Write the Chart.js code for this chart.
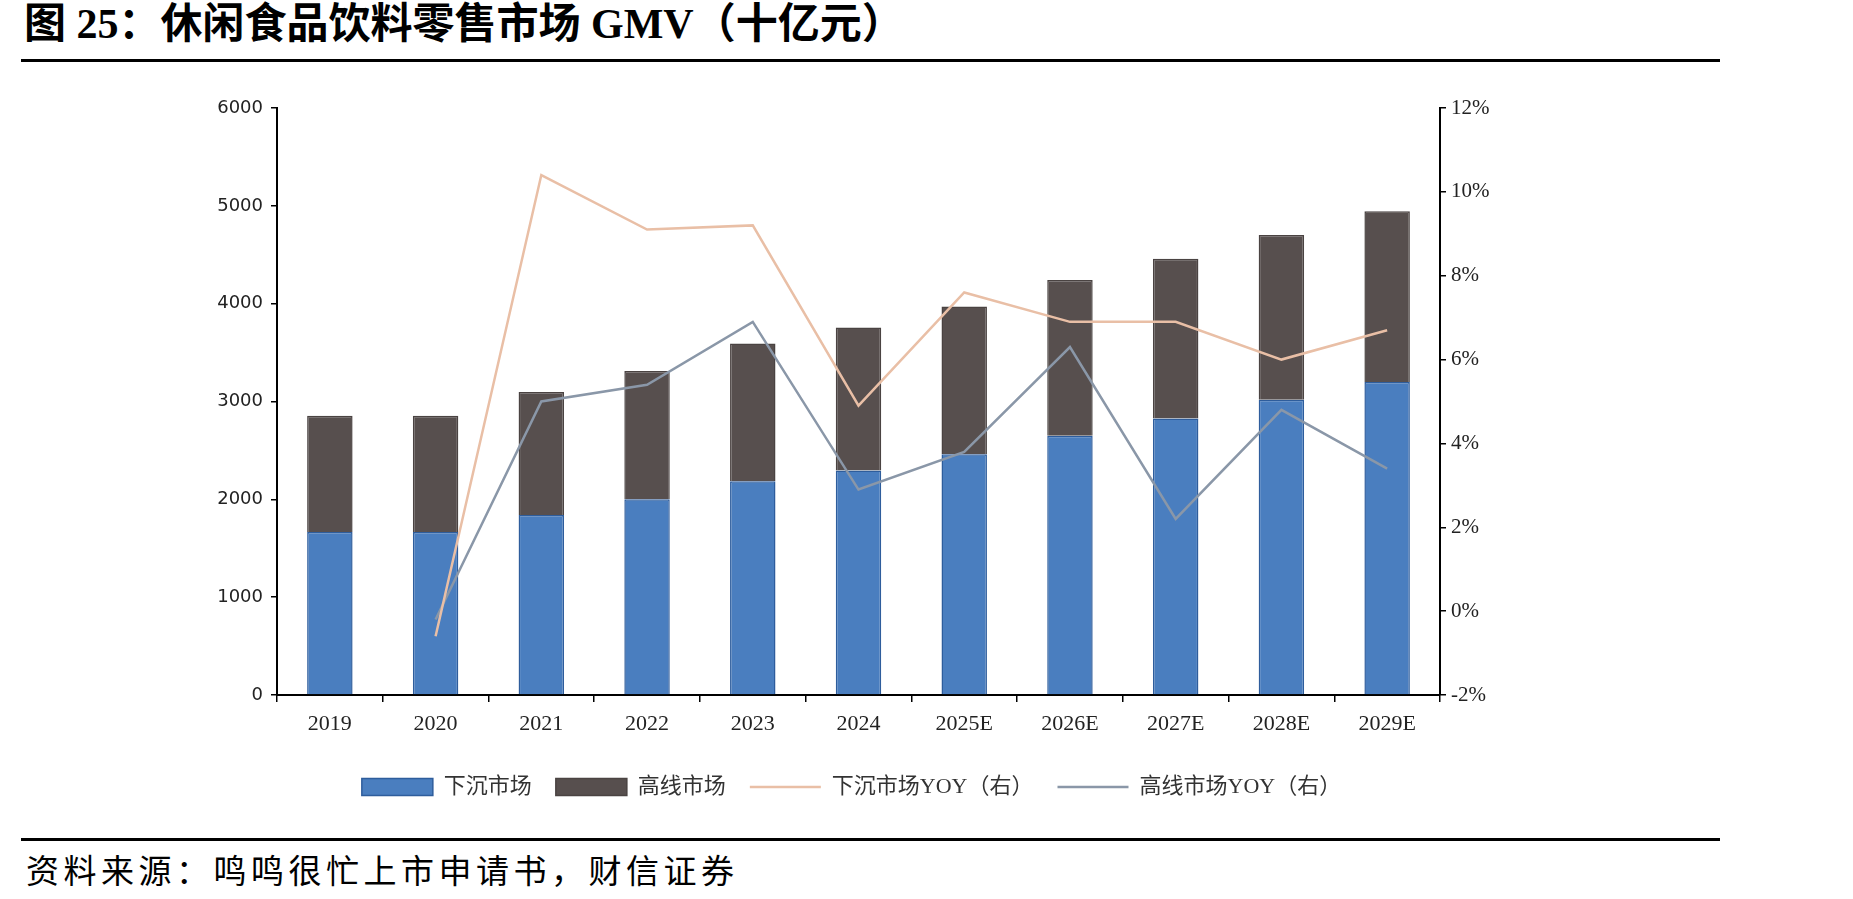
<!DOCTYPE html>
<html>
<head>
<meta charset="utf-8">
<script src="https://cdn.jsdelivr.net/npm/chart.js@4.4.1/dist/chart.umd.min.js"></script>
<style>
  body { margin: 0; background: #fff; width: 1853px; height: 899px; overflow: hidden; position: relative; }
  #title { position: absolute; left: 24px; top: -1px; font: bold 42px/50px "Liberation Serif", "Noto Sans CJK SC"; color: #000; white-space: nowrap; }
  .rule { position: absolute; left: 21px; width: 1699px; height: 3px; background: #000; }
  #src { position: absolute; left: 26px; top: 845px; font: 33px "Noto Sans CJK SC"; letter-spacing: 4.5px; color: #000; white-space: nowrap; }
  #wrap { position: absolute; left: 0; top: 66px; width: 1853px; height: 770px; }
</style>
</head>
<body>
<div id="title">图 25：休闲食品饮料零售市场 GMV（十亿元）</div>
<div class="rule" style="top:59px"></div>
<div id="wrap"><canvas id="chart"></canvas></div>
<div class="rule" style="top:838px"></div>
<div id="src">资料来源：鸣鸣很忙上市申请书，财信证券</div>

<script>
const years = ['2019', '2020', '2021', '2022', '2023', '2024', '2025E', '2026E', '2027E', '2028E', '2029E'];
// 十亿元
const lowTier = [1665, 1665, 1839, 2002, 2184, 2294, 2460, 2651, 2826, 3017, 3199];
const highTier = [1190, 1190, 1259, 1311, 1409, 1462, 1511, 1592, 1632, 1685, 1746];
// %
const lowTierYoy = [null, -0.6, 10.4, 9.1, 9.2, 4.9, 7.6, 6.9, 6.9, 6.0, 6.7];
const highTierYoy = [null, -0.2, 5.0, 5.4, 6.9, 2.9, 3.8, 6.3, 2.2, 4.8, 3.4];

const leftTicks = { min: 0, max: 6000, step: 1000 };
const rightTicks = { min: -2, max: 12, step: 2 };

const serif = 'Liberation Serif';

new Chart(document.getElementById('chart'), {
  data: {
    labels: years,
    datasets: [
      {
        type: 'bar', label: '下沉市场', data: lowTier, yAxisID: 'y', stack: 'gmv', order: 1,
        backgroundColor: '#4a7ebf', borderColor: '#2e5d9c', borderWidth: 1.5,
        categoryPercentage: 1, barPercentage: 0.43,
      },
      {
        type: 'bar', label: '高线市场', data: highTier, yAxisID: 'y', stack: 'gmv', order: 1,
        backgroundColor: '#574f4e', borderColor: '#4a4342', borderWidth: 1.5,
        categoryPercentage: 1, barPercentage: 0.43,
      },
      {
        type: 'line', label: '下沉市场YOY（右）', data: lowTierYoy, yAxisID: 'y1', order: 0,
        borderColor: '#e9bfa6', backgroundColor: '#e9bfa6', borderWidth: 2.5,
        pointRadius: 0, tension: 0,
      },
      {
        type: 'line', label: '高线市场YOY（右）', data: highTierYoy, yAxisID: 'y1', order: 0,
        borderColor: '#8a97a8', backgroundColor: '#8a97a8', borderWidth: 2.5,
        pointRadius: 0, tension: 0,
      },
    ],
  },
  options: {
    responsive: true,
    maintainAspectRatio: false,
    animation: false,
    layout: { padding: { left: 100, right: 250, top: 42, bottom: 28 } },
    plugins: {
      tooltip: { enabled: false },
      legend: {
        position: 'bottom',
        labels: {
          usePointStyle: true,
          pointStyleWidth: 71,
          boxHeight: 17,
          padding: 24,
          color: '#333',
          font: { family: serif + ', Noto Sans CJK SC', size: 22 },
          sort: (a, b) => a.datasetIndex - b.datasetIndex,
          generateLabels: (chart) =>
            Chart.defaults.plugins.legend.labels.generateLabels(chart).map((item) => {
              const ds = chart.data.datasets[item.datasetIndex];
              item.pointStyle = ds.type === 'line' ? 'line' : 'rect';
              return item;
            }),
        },
      },
    },
    scales: {
      x: {
        stacked: true,
        grid: { drawOnChartArea: false, offset: true, tickLength: 7, color: '#000', lineWidth: 1.5 },
        border: { color: '#000', width: 2 },
        ticks: { color: '#222', font: { family: serif, size: 22 }, padding: 9, maxRotation: 0 },
        afterFit: (s) => { s.height = 57; },
      },
      y: {
        position: 'left',
        stacked: true,
        min: leftTicks.min,
        max: leftTicks.max,
        grid: { drawOnChartArea: false, tickLength: 6, color: '#000', lineWidth: 1.5 },
        border: { color: '#000', width: 2 },
        ticks: {
          stepSize: leftTicks.step, color: '#222', font: { family: 'DejaVu Sans', size: 18 }, padding: 8,
          callback: (v) => String(v),
        },
        afterFit: (s) => { s.width = 177; },
      },
      y1: {
        position: 'right',
        min: rightTicks.min,
        max: rightTicks.max,
        grid: { drawOnChartArea: false, tickLength: 6, color: '#000', lineWidth: 1.5 },
        border: { color: '#000', width: 2 },
        ticks: {
          stepSize: rightTicks.step, color: '#222', font: { family: serif, size: 21 }, padding: 5,
          callback: (v) => v + '%',
        },
        afterFit: (s) => { s.width = 163; },
      },
    },
  },
});
</script>
</body>
</html>
